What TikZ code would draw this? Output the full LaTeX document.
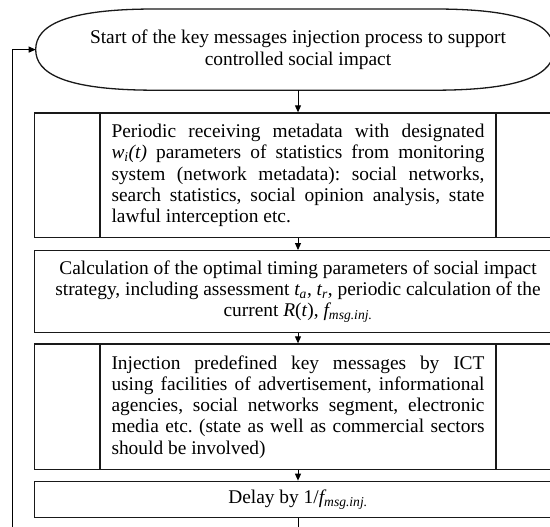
\documentclass[tikz,border=0pt]{standalone}
\usepackage{fontspec}
\setmainfont{Liberation Serif}
\usetikzlibrary{arrows.meta,calc}

\newcommand\chartfont{\fontsize{19.4}{21.3}\selectfont\frenchspacing}
\newcommand\finj{{\itshape f\textsubscript{msg.inj.}}}

\tikzset{
  outline/.style={draw=black!90, line width=1.3pt},
  box/.style={outline, rectangle, minimum width=527.4pt, inner sep=0pt, font=\chartfont},
  sidebox/.style={box, text width=373pt, align=justify},
  flow/.style={black, line width=0.9pt, -{Triangle[width=6pt,length=7pt]}},
}

\begin{document}
\begin{tikzpicture}[x=1pt, y=-1pt]
\useasboundingbox (0,0) rectangle (550,527);
\clip (0,0) rectangle (550,527);

% terminator: flattened oval
\draw[outline] (35.7,49.6) .. controls (35.7,26) and (64,9) .. (155,9)
  -- (434.5,9) .. controls (525.5,9) and (553.8,26) .. (553.8,49.6)
  .. controls (553.8,73.2) and (525.5,90.2) .. (434.5,90.2)
  -- (155,90.2) .. controls (64,90.2) and (35.7,73.2) .. (35.7,49.6) -- cycle;
\node[font=\chartfont, align=center] (start) at (298,49.6)
  {Start of the key messages injection process to support\\controlled social impact};
\coordinate (start-w) at (35.7,49.6);
\coordinate (start-s) at (298,90.2);

% process steps
\node[sidebox, minimum height=124.7pt] (b1) at (298,175.35)
  {Periodic receiving metadata with designated\linebreak
   {\itshape w\textsubscript{i}(t)} parameters of statistics from monitoring\linebreak
   system (network metadata): social networks,\linebreak
   search statistics, social opinion analysis, state\linebreak
   lawful interception etc.};
\node[box, minimum height=81.8pt, align=center] (b2) at (298,291.6)
  {Calculation of the optimal timing parameters of social impact\\
   strategy, including assessment {\itshape t\textsubscript{a}}, {\itshape t\textsubscript{r}}, periodic calculation of the\\
   current \textit{R}(\textit{t}), \finj};
\node[sidebox, minimum height=125.7pt] (b3) at (298,406.85)
  {Injection predefined key messages by ICT\linebreak
   using facilities of advertisement, informational\linebreak
   agencies, social networks segment, electronic\linebreak
   media etc. (state as well as commercial sectors\linebreak
   should be involved)};
\node[box, minimum height=36.4pt] (d) at (298,499.5) {Delay by 1/\finj};

% side panels of the two framed steps
\foreach \b in {b1,b3}{
  \draw[outline] ($(\b.north west)+(66.4,0)$) -- ($(\b.south west)+(66.4,0)$);
  \draw[outline] ($(\b.north east)+(-66.4,0)$) -- ($(\b.south east)+(-66.4,0)$);
}

% connectors
\draw[flow] (start-s) -- (b1.north);
\draw[flow] (b1.south) -- (b2.north);
\draw[flow] (b2.south) -- (b3.north);
\draw[flow] (b3.south) -- (d.north);
\coordinate (loop) at (12.7,545);
\draw[flow] (d.south) |- (loop) |- (start-w);
\end{tikzpicture}
\end{document}
